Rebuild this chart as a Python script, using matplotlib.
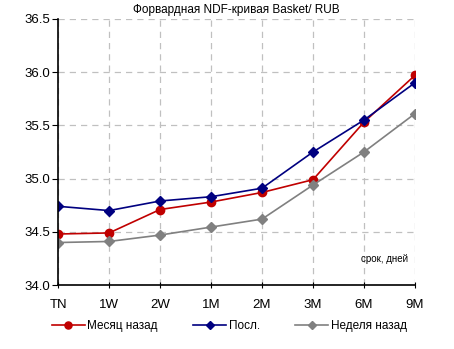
import matplotlib
matplotlib.use("Agg")
import matplotlib.pyplot as plt

plt.rcParams['font.family'] = ['Liberation Sans', 'DejaVu Sans']

categories = ["TN", "1W", "2W", "1M", "2M", "3M", "6M", "9M"]
month_ago = [34.48, 34.49, 34.71, 34.78, 34.87, 34.99, 35.53, 35.97]
latest = [34.74, 34.70, 34.79, 34.83, 34.91, 35.25, 35.55, 35.90]
week_ago = [34.40, 34.41, 34.47, 34.545, 34.62, 34.94, 35.25, 35.61]
y_ticks = [34.0, 34.5, 35.0, 35.5, 36.0, 36.5]

fig = plt.figure(figsize=(4.54, 3.49), dpi=100)
ax = fig.add_axes([0.128, 0.183, 0.786, 0.763])

x = list(range(len(categories)))
ax.plot(x, month_ago, color="#C00000", marker="o", markersize=6, lw=1.2, label="Месяц назад")
ax.plot(x, latest, color="#000080", marker="D", markersize=5, lw=1.2, label="Посл.")
ax.plot(x, week_ago, color="#808080", marker="D", markersize=5, lw=1.2, label="Неделя назад")

ax.set_xlim(0, len(categories) - 1)
ax.set_ylim(34.0, 36.5)
ax.set_xticks(x)
ax.set_xticklabels(categories, fontsize=9.5)
ax.set_yticks(y_ticks)
ax.set_yticklabels([f"{v:.1f}" for v in y_ticks], fontsize=9.5)
ax.tick_params(axis='x', length=4, direction='inout', pad=8)
ax.tick_params(axis='y', length=4, direction='out', pad=2)
ax.grid(True, color="#C0C0C0", linestyle=(0, (5, 4)), lw=0.9)
ax.set_axisbelow(True)
for s in ["top", "right"]:
    ax.spines[s].set_visible(False)
ax.spines["left"].set_linewidth(1.2)
ax.spines["bottom"].set_linewidth(1.2)

ax.set_title("Форвардная NDF-кривая Basket/ RUB", fontsize=8.5, pad=4)
ax.text(0.98, 0.10, "срок, дней", transform=ax.transAxes, fontsize=7, ha="right", va="center")

fig.legend(loc="lower center", bbox_to_anchor=(0.505, 0.018), ncol=3, frameon=False,
           fontsize=8.5, columnspacing=3.0, handlelength=2.8, handletextpad=0.2,
           markerscale=0.85)

fig.savefig("out.png", dpi=100)
